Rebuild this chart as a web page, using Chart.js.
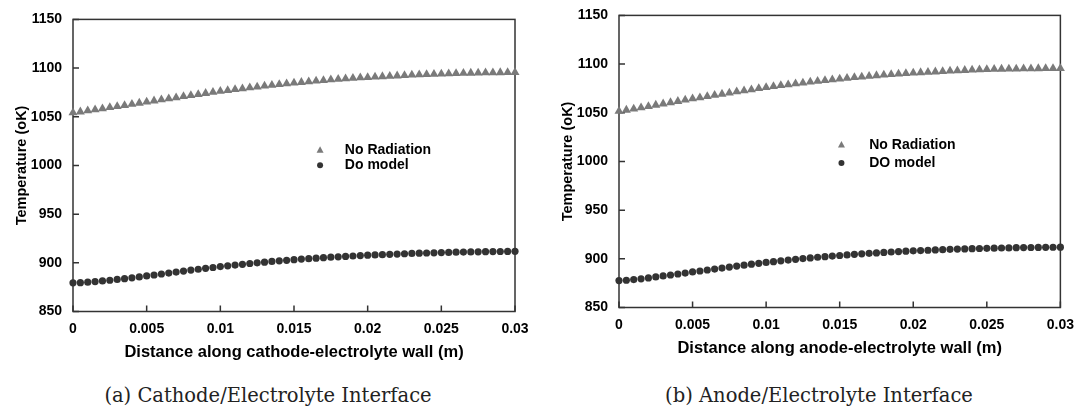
<!DOCTYPE html>
<html>
<head>
<meta charset="utf-8">
<script src="https://cdn.jsdelivr.net/npm/chart.js@4.4.1/dist/chart.umd.min.js"></script>
<style>
  body { margin: 0; background: #fff; width: 1083px; height: 410px; overflow: hidden; position: relative; }
  .panel { position: absolute; }
  .caption { position: absolute; top: 384px; font-family: "DejaVu Serif", serif; font-size: 19.5px; color: #222; white-space: nowrap; transform: translateX(-50%); }
</style>
</head>
<body>
<div class="panel" style="left:0; top:0; width:541px; height:365px;"><canvas id="cathode"></canvas></div>
<div class="panel" style="left:546px; top:-4px; width:537px; height:365px;"><canvas id="anode"></canvas></div>
<div class="caption" style="left:268px;">(a) Cathode/Electrolyte Interface</div>
<div class="caption" style="left:819px;">(b) Anode/Electrolyte Interface</div>
<script>
// distance along the wall (m)
const distance = [
  0, 0.0005, 0.001, 0.0015, 0.002, 0.0025, 0.003, 0.0035, 0.004, 0.0045,
  0.005, 0.0055, 0.006, 0.0065, 0.007, 0.0075, 0.008, 0.0085, 0.009, 0.0095,
  0.01, 0.0105, 0.011, 0.0115, 0.012, 0.0125, 0.013, 0.0135, 0.014, 0.0145,
  0.015, 0.0155, 0.016, 0.0165, 0.017, 0.0175, 0.018, 0.0185, 0.019, 0.0195,
  0.02, 0.0205, 0.021, 0.0215, 0.022, 0.0225, 0.023, 0.0235, 0.024, 0.0245,
  0.025, 0.0255, 0.026, 0.0265, 0.027, 0.0275, 0.028, 0.0285, 0.029, 0.0295,
  0.03
];

// (a) cathode/electrolyte wall temperatures (K)
const cathodeNoRad = [
  1054.1, 1055.1, 1056.2, 1057.3, 1058.4, 1059.5, 1060.6, 1061.7, 1062.9, 1064.1,
  1065.3, 1066.4, 1067.5, 1068.6, 1069.7, 1070.8, 1071.9, 1073.0, 1074.1, 1075.2,
  1076.2, 1077.1, 1078.0, 1078.9, 1079.8, 1080.7, 1081.6, 1082.4, 1083.2, 1084.0,
  1084.7, 1085.4, 1086.1, 1086.8, 1087.4, 1088.0, 1088.6, 1089.1, 1089.6, 1090.1,
  1090.5, 1090.9, 1091.3, 1091.7, 1092.1, 1092.5, 1092.9, 1093.2, 1093.5, 1093.8,
  1094.1, 1094.3, 1094.5, 1094.7, 1094.9, 1095.1, 1095.2, 1095.3, 1095.4, 1095.5,
  1095.6
];
const cathodeDO = [
  879.4, 879.6, 880.1, 880.7, 881.4, 882.1, 882.9, 883.7, 884.6, 885.5,
  886.5, 887.5, 888.5, 889.5, 890.5, 891.5, 892.5, 893.4, 894.3, 895.2,
  896.1, 896.9, 897.7, 898.5, 899.3, 900.0, 900.7, 901.4, 902.0, 902.6,
  903.2, 903.8, 904.3, 904.8, 905.3, 905.8, 906.2, 906.6, 907.0, 907.4,
  907.8, 908.1, 908.4, 908.7, 909.0, 909.3, 909.6, 909.9, 910.1, 910.3,
  910.5, 910.7, 910.9, 911.0, 911.2, 911.3, 911.4, 911.5, 911.6, 911.7,
  911.8
];

// (b) anode/electrolyte wall temperatures (K)
const anodeNoRad = [
  1051.7, 1052.8, 1054.0, 1055.3, 1056.6, 1057.9, 1059.2, 1060.5, 1061.8, 1063.1,
  1064.4, 1065.6, 1066.8, 1068.0, 1069.2, 1070.4, 1071.6, 1072.7, 1073.8, 1074.9,
  1076.0, 1077.0, 1078.0, 1078.9, 1079.8, 1080.7, 1081.6, 1082.4, 1083.2, 1084.0,
  1084.8, 1085.5, 1086.2, 1086.9, 1087.6, 1088.2, 1088.8, 1089.4, 1089.9, 1090.4,
  1090.9, 1091.3, 1091.7, 1092.1, 1092.5, 1092.9, 1093.3, 1093.6, 1093.9, 1094.2,
  1094.5, 1094.7, 1094.9, 1095.0, 1095.1, 1095.2, 1095.3, 1095.4, 1095.5, 1095.5,
  1095.6
];
const anodeDO = [
  877.7, 878.0, 878.7, 879.5, 880.4, 881.4, 882.4, 883.4, 884.4, 885.4,
  886.5, 887.5, 888.5, 889.5, 890.5, 891.5, 892.5, 893.5, 894.5, 895.4,
  896.3, 897.1, 897.9, 898.7, 899.5, 900.2, 900.9, 901.6, 902.2, 902.8,
  903.4, 904.0, 904.6, 905.1, 905.6, 906.1, 906.6, 907.0, 907.4, 907.8,
  908.2, 908.5, 908.8, 909.1, 909.4, 909.7, 910.0, 910.2, 910.4, 910.6,
  910.8, 910.9, 911.1, 911.2, 911.4, 911.5, 911.6, 911.7, 911.8, 911.9,
  912.0
];

const yTicks = [850, 900, 950, 1000, 1050, 1100, 1150];
const xTicks = [0, 0.005, 0.01, 0.015, 0.02, 0.025, 0.03];

const TRI_COLOR = '#7a7a7a';
const DOT_COLOR = '#333333';
const AXIS_COLOR = '#333333';
const FONT = 'Liberation Sans, Arial, sans-serif';

Chart.defaults.font.family = FONT;
Chart.defaults.color = '#000';

function toPoints(ys) {
  return ys.map((v, i) => ({ x: distance[i], y: v }));
}

// box round the plot and the small inward tick marks
const frame = {
  id: 'frame',
  beforeDatasetsDraw(chart) {
    const { ctx, chartArea: a, scales: { x, y } } = chart;
    ctx.save();
    ctx.strokeStyle = AXIS_COLOR;
    ctx.lineWidth = 1.5;
    ctx.strokeRect(a.left, a.top, a.right - a.left, a.bottom - a.top);
    ctx.beginPath();
    xTicks.forEach(v => {
      const px = x.getPixelForValue(v);
      ctx.moveTo(px, a.bottom);
      ctx.lineTo(px, a.bottom - 6);
    });
    yTicks.forEach(v => {
      const py = y.getPixelForValue(v);
      ctx.moveTo(a.left, py);
      ctx.lineTo(a.left + 6, py);
    });
    ctx.stroke();
    ctx.restore();
  }
};

function makeLegend(labels, pos) {
  return {
    id: 'innerLegend',
    afterDatasetsDraw(chart) {
      const { ctx, chartArea: a } = chart;
      const w = a.right - a.left, h = a.bottom - a.top;
      const mx = a.left + w * pos.marker;
      const tx = a.left + w * pos.text;
      const rows = pos.rows.map(r => a.top + h * r);
      ctx.save();
      // triangle
      ctx.fillStyle = TRI_COLOR;
      ctx.beginPath();
      ctx.moveTo(mx, rows[0] - 4);
      ctx.lineTo(mx + 3.5, rows[0] + 2.5);
      ctx.lineTo(mx - 3.5, rows[0] + 2.5);
      ctx.closePath();
      ctx.fill();
      // dot
      ctx.fillStyle = DOT_COLOR;
      ctx.beginPath();
      ctx.arc(mx, rows[1], 3, 0, Math.PI * 2);
      ctx.fill();
      ctx.fillStyle = '#000';
      ctx.font = 'bold 14px ' + FONT;
      ctx.textBaseline = 'middle';
      ctx.textAlign = 'left';
      ctx.fillText(labels[0], tx, rows[0]);
      ctx.fillText(labels[1], tx, rows[1]);
      ctx.restore();
    }
  };
}

function makeChart(id, noRad, doModel, xTitle, labels, legendPos, rightPad) {
  const ctx = document.getElementById(id).getContext('2d');
  return new Chart(ctx, {
    type: 'scatter',
    data: {
      datasets: [
        {
          label: labels[0],
          data: toPoints(noRad),
          pointStyle: 'triangle',
          pointRadius: 5.2,
          pointBorderWidth: 0,
          backgroundColor: TRI_COLOR,
          borderColor: TRI_COLOR,
          clip: false
        },
        {
          label: labels[1],
          data: toPoints(doModel),
          pointStyle: 'circle',
          pointRadius: 3.6,
          pointBorderWidth: 0,
          backgroundColor: DOT_COLOR,
          borderColor: DOT_COLOR,
          clip: false
        }
      ]
    },
    options: {
      responsive: true,
      maintainAspectRatio: false,
      animation: false,
      layout: { padding: { top: 17, right: rightPad, bottom: 0, left: 0 } },
      plugins: {
        legend: { display: false },
        tooltip: { enabled: false }
      },
      scales: {
        x: {
          type: 'linear',
          min: 0,
          max: 0.03,
          afterBuildTicks: s => { s.ticks = xTicks.map(v => ({ value: v })); },
          afterFit: s => { s.height = 53.5; },
          ticks: {
            padding: 9,
            maxRotation: 0,
            autoSkip: false,
            color: '#000',
            font: { size: 14, weight: 'bold' },
            callback: v => String(+v.toFixed(4))
          },
          grid: { display: false, drawTicks: false },
          border: { display: false },
          title: {
            display: true,
            text: xTitle,
            color: '#000',
            font: { size: 16.5, weight: 'bold' },
            padding: { top: 0, bottom: 3 }
          }
        },
        y: {
          min: 850,
          max: 1150,
          afterBuildTicks: s => { s.ticks = yTicks.map(v => ({ value: v })); },
          afterFit: s => { s.width = 73; },
          ticks: {
            padding: 11,
            color: '#000',
            font: { size: 14, weight: 'bold' },
            callback: v => String(v)
          },
          grid: { display: false, drawTicks: false },
          border: { display: false },
          title: {
            display: true,
            text: 'Temperature (oK)',
            color: '#000',
            font: { size: 14.5, weight: 'bold' },
            padding: { top: 13, bottom: 0 }
          }
        }
      }
    },
    plugins: [frame, makeLegend(labels, legendPos)]
  });
}

makeChart('cathode', cathodeNoRad, cathodeDO,
  'Distance along cathode-electrolyte wall (m)',
  ['No Radiation', 'Do model'],
  { marker: 0.559, text: 0.615, rows: [0.448, 0.499] }, 26);

makeChart('anode', anodeNoRad, anodeDO,
  'Distance along anode-electrolyte wall (m)',
  ['No Radiation', 'DO model'],
  { marker: 0.504, text: 0.567, rows: [0.444, 0.505] }, 18);
</script>
</body>
</html>
